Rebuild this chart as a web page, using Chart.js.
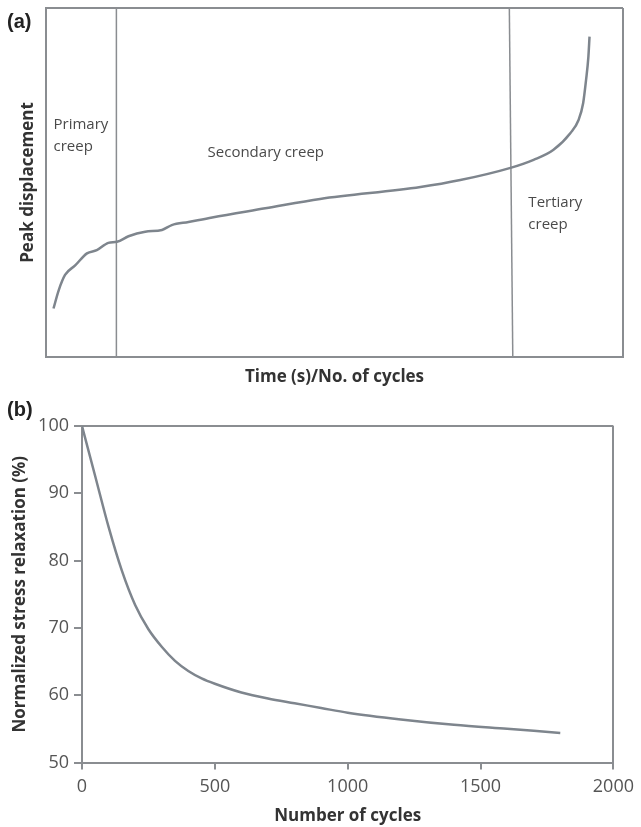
<!DOCTYPE html>
<html>
<head>
<meta charset="utf-8">
<script src="https://cdn.jsdelivr.net/npm/chart.js@4.4.1/dist/chart.umd.min.js"></script>
<style>
  html, body { margin: 0; padding: 0; background: #fff; }
  body { width: 641px; height: 827px; position: relative; overflow: hidden; }
  .panel { position: absolute; left: 0; width: 641px; }
  .tag { position: absolute; left: 7px; font: bold 20px "Liberation Sans", Arial, sans-serif; color: #222; }
</style>
</head>
<body>
<div class="panel" style="top:0;height:390px"><canvas id="creepChart"></canvas></div>
<div class="panel" style="top:390px;height:437px"><canvas id="relaxChart"></canvas></div>
<div class="tag" style="top:10px">(a)</div>
<div class="tag" style="top:398px">(b)</div>
<script>
// (a) schematic creep curve, arbitrary units 0-100 on both axes
const creepX = [1.3, 2.2, 3.3, 5.1, 7.1, 8.8, 10.8, 12.3, 14.3, 17.2, 20.1, 21.8, 24.7, 28.8, 38.0, 47.5, 64.9, 71.8, 80.5, 84.5, 87.9, 90.9, 92.3, 93.1, 93.6, 94.0, 94.2];
const creepY = [13.9, 19.1, 23.5, 26.3, 29.7, 30.6, 32.7, 33.0, 34.6, 35.9, 36.4, 37.8, 38.7, 40.0, 42.6, 45.3, 48.7, 50.7, 54.2, 56.5, 59.3, 64.2, 67.9, 72.8, 79.4, 86.0, 91.8];
const primaryEndX = [12.2, 12.2];
const tertiaryStartX = [80.3, 80.9];
const boundaryY = [100, 0];
const regionNames = [['Primary', 'creep'], ['Secondary creep'], ['Tertiary', 'creep']];

// (b) stress relaxation vs cycles
const cycles = [0, 50, 100, 150, 200, 250, 300, 350, 400, 450, 500, 600, 700, 800, 900, 1000, 1200, 1400, 1600, 1800];
const relaxation = [100, 92.5, 85, 78.5, 73.4, 69.8, 67.2, 65.1, 63.6, 62.5, 61.7, 60.4, 59.5, 58.8, 58.1, 57.4, 56.4, 55.6, 55, 54.4];
const relaxYTicks = [50, 60, 70, 80, 90, 100];
const relaxXTicks = [0, 500, 1000, 1500, 2000];

const lineGray = '#7e858d';
const frameGray = '#8a8d91';
const textGray = '#4a4a4a';

const toPoints = (xs, ys) => xs.map((x, i) => ({x: x, y: ys[i]}));

// where each region name sits, in data units of panel (a)
const notePlaces = [{x: 1.3, y: 66.5}, {x: 28.0, y: 58.5}, {x: 83.6, y: 44.1}];

const regionNotes = {
  id: 'regionNotes',
  afterDatasetsDraw(chart) {
    const {ctx, scales} = chart;
    ctx.save();
    ctx.font = '15px "Open Sans", sans-serif';
    ctx.fillStyle = textGray;
    ctx.textAlign = 'left';
    ctx.textBaseline = 'middle';
    regionNames.forEach((lines, i) => {
      const px = scales.x.getPixelForValue(notePlaces[i].x);
      const py = scales.y.getPixelForValue(notePlaces[i].y);
      lines.forEach((txt, j) => ctx.fillText(txt, px, py + j * 22));
    });
    ctx.restore();
  }
};

const edgeOnly = (edge, color) => c => (c.tick && c.tick.value === edge ? color : 'rgba(0,0,0,0)');

new Chart(document.getElementById('creepChart'), {
  type: 'line',
  data: {
    datasets: [
      {data: toPoints(creepX, creepY), borderColor: lineGray, borderWidth: 2.5, pointRadius: 0, cubicInterpolationMode: 'monotone'},
      {data: toPoints(primaryEndX, boundaryY), borderColor: frameGray, borderWidth: 1.5, pointRadius: 0},
      {data: toPoints(tertiaryStartX, boundaryY), borderColor: frameGray, borderWidth: 1.5, pointRadius: 0}
    ]
  },
  options: {
    responsive: true,
    maintainAspectRatio: false,
    animation: false,
    layout: {padding: {top: 8, right: 18, left: 0, bottom: 0}},
    plugins: {legend: {display: false}, tooltip: {enabled: false}},
    scales: {
      x: {
        type: 'linear', min: 0, max: 100,
        ticks: {display: false, stepSize: 100},
        grid: {drawTicks: false, color: edgeOnly(100, frameGray), lineWidth: 2},
        border: {display: true, color: frameGray, width: 2},
        title: {display: true, text: 'Time (s)/No. of cycles', color: '#333', font: {family: 'Open Sans', size: 17, weight: 'bold'}, padding: {top: 0, bottom: 3}},
        afterFit: s => { s.height = 33; }
      },
      y: {
        type: 'linear', min: 0, max: 100,
        ticks: {display: false, stepSize: 100},
        grid: {drawTicks: false, color: edgeOnly(100, frameGray), lineWidth: 2},
        border: {display: true, color: frameGray, width: 2},
        title: {display: true, text: 'Peak displacement', color: '#333', font: {family: 'Open Sans', size: 17, weight: 'bold'}, padding: {top: 18, bottom: 0}},
        afterFit: s => { s.width = 46; }
      }
    }
  },
  plugins: [regionNotes]
});

new Chart(document.getElementById('relaxChart'), {
  type: 'line',
  data: {
    datasets: [
      {data: toPoints(cycles, relaxation), borderColor: lineGray, borderWidth: 2.5, pointRadius: 0, cubicInterpolationMode: 'monotone'}
    ]
  },
  options: {
    responsive: true,
    maintainAspectRatio: false,
    animation: false,
    layout: {padding: {top: 36, right: 23, left: 0, bottom: 0}},
    plugins: {legend: {display: false}, tooltip: {enabled: false}},
    scales: {
      x: {
        type: 'linear', min: 0, max: 2000,
        afterBuildTicks: s => { s.ticks = relaxXTicks.map(v => ({value: v})); },
        ticks: {color: '#555', padding: 7, maxRotation: 0, font: {family: 'Open Sans', size: 18}, callback: v => String(v)},
        grid: {color: edgeOnly(2000, frameGray), tickColor: frameGray, tickLength: 7, lineWidth: 2},
        border: {display: true, color: frameGray, width: 2},
        title: {display: true, text: 'Number of cycles', color: '#333', font: {family: 'Open Sans', size: 17, weight: 'bold'}, padding: {top: 0, bottom: 1}},
        afterFit: s => { s.height = 64.5; }
      },
      y: {
        type: 'linear', min: 50, max: 100,
        afterBuildTicks: s => { s.ticks = relaxYTicks.map(v => ({value: v})); },
        ticks: {color: '#555', padding: 5, font: {family: 'Open Sans', size: 18}, callback: v => String(v)},
        grid: {color: edgeOnly(100, frameGray), tickColor: frameGray, tickLength: 8, lineWidth: 2},
        border: {display: true, color: frameGray, width: 2},
        title: {display: true, text: 'Normalized stress relaxation (%)', color: '#333', font: {family: 'Open Sans', size: 17, weight: 'bold'}, padding: {top: 10, bottom: 0}},
        afterFit: s => { s.width = 82; }
      }
    }
  }
});
</script>
</body>
</html>
